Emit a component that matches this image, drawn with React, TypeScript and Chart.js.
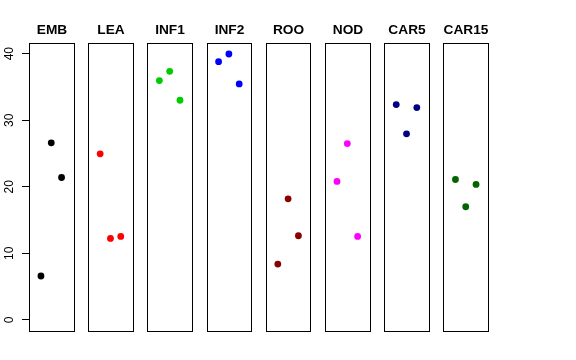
import React, { useEffect, useRef } from "react";
import { Chart, registerables } from "chart.js";

Chart.register(...registerables);

// Group names (panel titles) and colours
const groups = ["EMB", "LEA", "INF1", "INF2", "ROO", "NOD", "CAR5", "CAR15"];
const colors = ["#000000", "#FF0000", "#00CD00", "#0000FF", "#8B0000", "#FF00FF", "#000080", "#006400"];

// Values per group (three replicates each, in plotted order)
const EMB = [6.6, 26.6, 21.4];
const LEA = [24.95, 12.25, 12.55];
const INF1 = [35.95, 37.35, 33.0];
const INF2 = [38.8, 39.95, 35.45];
const ROO = [8.4, 18.2, 12.65];
const NOD = [20.8, 26.5, 12.55];
const CAR5 = [32.35, 27.95, 31.9];
const CAR15 = [21.1, 17.0, 20.35];
const seriesValues = [EMB, LEA, INF1, INF2, ROO, NOD, CAR5, CAR15];

// Y tick labels
const yTicks = [0, 10, 20, 30, 40];

// Panel geometry in x-units (each panel spans 0..4 with 4% padding, points at 1,2,3)
const PANEL_STEP = 5.747;
const PANEL_MIN = -0.16;
const PANEL_MAX = 4.16;

const panelPlugin = {
  id: "panels",
  afterDraw(chart: any) {
    const { ctx, chartArea, scales } = chart;
    const xs = scales.x;
    ctx.save();
    ctx.strokeStyle = "#000000";
    ctx.lineWidth = 1;
    ctx.font = "bold 13.7px 'Liberation Sans', Arial, sans-serif";
    ctx.fillStyle = "#000000";
    ctx.textAlign = "center";
    ctx.textBaseline = "middle";
    groups.forEach((g, i) => {
      const l = Math.round(xs.getPixelForValue(i * PANEL_STEP + PANEL_MIN)) + 0.5;
      const r = Math.round(xs.getPixelForValue(i * PANEL_STEP + PANEL_MAX)) + 0.5;
      const t = Math.round(chartArea.top) + 0.5;
      const b = Math.round(chartArea.bottom) + 0.5;
      ctx.strokeRect(l, t, r - l, b - t);
      ctx.fillText(g, (l + r) / 2, chartArea.top - 13);
    });
    ctx.restore();
  },
};

function App() {
  const ref = useRef<HTMLCanvasElement | null>(null);
  useEffect(() => {
    if (!ref.current) return;
    const datasets = seriesValues.map((vals, i) => ({
      label: groups[i],
      data: vals.map((v, j) => ({ x: i * PANEL_STEP + (j + 1), y: v })),
      backgroundColor: colors[i],
      borderColor: colors[i],
      pointRadius: 3.4,
      pointBorderWidth: 0,
      showLine: false,
    }));
    const chart = new Chart(ref.current, {
      type: "scatter",
      data: { datasets },
      plugins: [panelPlugin],
      options: {
        animation: false,
        responsive: false,
        devicePixelRatio: 1,
        layout: { padding: { left: 0, right: 88, top: 43, bottom: 29 } },
        plugins: { legend: { display: false }, tooltip: { enabled: false }, title: { display: false } },
        scales: {
          x: {
            type: "linear",
            display: false,
            min: PANEL_MIN,
            max: 7 * PANEL_STEP + PANEL_MAX,
          },
          y: {
            type: "linear",
            min: -1.66,
            max: 41.6,
            afterBuildTicks: (scale: any) => {
              scale.ticks = yTicks.map((v) => ({ value: v }));
            },
            afterFit: (scale: any) => {
              scale.width = 29;
            },
            grid: {
              display: true,
              drawOnChartArea: false,
              drawTicks: true,
              tickLength: 7,
              color: "#000000",
              lineWidth: 1,
            },
            border: { display: true, color: "#000000", width: 1 },
            ticks: {
              minRotation: 90,
              maxRotation: 90,
              crossAlign: "center",
              padding: 6,
              color: "#000000",
              font: { family: "'Liberation Sans', Arial, sans-serif", size: 12 },
              callback: (v: any) => String(v),
            },
          },
        },
      },
    });
    return () => chart.destroy();
  }, []);
  return (
    <div style={{ position: "absolute", left: 0, top: 0, width: 576, height: 360, background: "#fff" }}>
      <canvas ref={ref} width={576} height={360} style={{ width: 576, height: 360 }} />
    </div>
  );
}

export default App;
